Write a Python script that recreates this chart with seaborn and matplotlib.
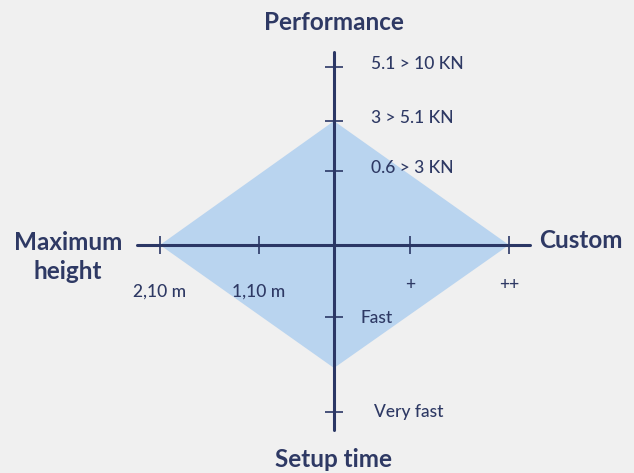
import matplotlib
matplotlib.use("Agg")
import matplotlib.pyplot as plt
import seaborn as sns
import pandas as pd

# Axis layout (units: center = 0)
axis_names = ["Performance", "Custom", "Setup time", "Maximum\nheight"]

# Performance (up)
perf_ticks = [0.74, 1.24, 1.78]
perf_labels = ["0.6 > 3 KN", "3 > 5.1 KN", "5.1 > 10 KN"]
# Setup time (down)
setup_ticks = [-0.72, -1.67]
setup_labels = ["Fast", "Very fast"]
# Maximum height (left)
height_ticks = [-0.75, -1.74]
height_labels = ["1,10 m", "2,10 m"]
# Custom (right)
custom_ticks = [0.76, 1.75]
custom_labels = ["+", "++"]

# Diamond (product profile): performance, custom, setup, height
profile = [1.24, 1.75, -1.23, -1.74]

NAVY = "#2b3765"
TEXT = "#2e3964"
FILL = "#b9d4ef"
BG = "#f0f0f0"

sns.set_theme(style="white")
plt.rcParams["font.family"] = ["Lato", "DejaVu Sans"]

fig = plt.figure(figsize=(6.34, 4.73), dpi=100, facecolor=BG)
ax = fig.add_axes([0, 0, 1, 1])
ax.set_facecolor(BG)
ax.set_xlim(-3.34, 3.00)
ax.set_ylim(-2.28, 2.45)
ax.axis("off")

# diamond
px = [0, profile[1], 0, profile[3]]
py = [profile[0], 0, profile[2], 0]
ax.fill(px, py, color=FILL, lw=0, zorder=1)

# axis lines
axes_df = pd.DataFrame({"x": [-1.97, 1.96], "y": [0, 0]})
sns.lineplot(data=axes_df, x="x", y="y", color=NAVY, lw=2.2, ax=ax, zorder=3)
vdf = pd.DataFrame({"x": [0, 0], "y": [-1.85, 1.93]})
sns.lineplot(data=vdf, x="x", y="y", color=NAVY, lw=2.2, ax=ax, zorder=3,
             orient="y", sort=False)

# ticks
vt = perf_ticks + setup_ticks
ax.plot([0] * len(vt), vt, ls="none", marker="_", ms=13, mew=1.2, color=NAVY, zorder=4)
ht = height_ticks + custom_ticks
ax.plot(ht, [0] * len(ht), ls="none", marker="|", ms=13, mew=1.2, color=NAVY, zorder=4)

# tick labels
tkw = dict(color=TEXT, fontsize=12.5, fontweight="medium", va="center")
for t, lab in zip(perf_ticks, perf_labels):
    ax.text(0.37, t + 0.03, lab, ha="left", **tkw)
ax.text(0.27, setup_ticks[0] - 0.01, setup_labels[0], ha="left", **tkw)
ax.text(0.40, setup_ticks[1] - 0.0, setup_labels[1], ha="left", **tkw)
for t, lab in zip(height_ticks, height_labels):
    ax.text(t, -0.47, lab, ha="center", **tkw)
for t, lab in zip(custom_ticks, custom_labels):
    ax.text(t, -0.40, lab, ha="center", **tkw)

# axis titles
bkw = dict(color=TEXT, fontsize=17.5, fontweight="bold")
ax.text(0, 2.23, axis_names[0], ha="center", va="center", **bkw)
ax.text(2.05, 0.05, axis_names[1], ha="left", va="center", **bkw)
ax.text(0, -2.14, axis_names[2], ha="center", va="center", **bkw)
ax.text(-2.66, -0.12, axis_names[3], ha="center", va="center", linespacing=1.3, **bkw)

fig.savefig("out.png", dpi=100, facecolor=BG)
